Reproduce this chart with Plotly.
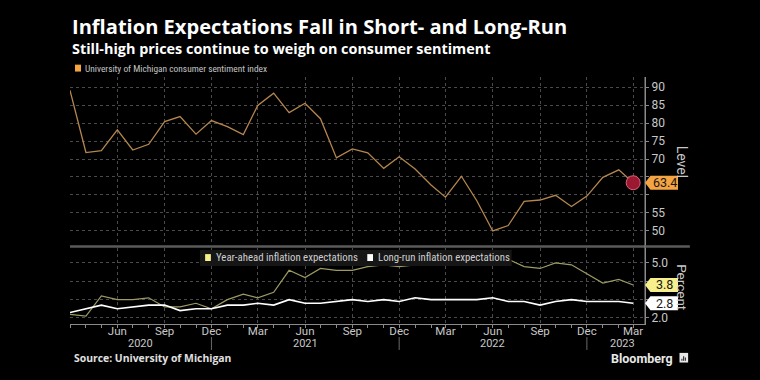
import plotly.graph_objects as go

# ---------------- data ----------------
months = ["2020-03-01", "2020-04-01", "2020-05-01", "2020-06-01", "2020-07-01", "2020-08-01",
          "2020-09-01", "2020-10-01", "2020-11-01", "2020-12-01", "2021-01-01", "2021-02-01",
          "2021-03-01", "2021-04-01", "2021-05-01", "2021-06-01", "2021-07-01", "2021-08-01",
          "2021-09-01", "2021-10-01", "2021-11-01", "2021-12-01", "2022-01-01", "2022-02-01",
          "2022-03-01", "2022-04-01", "2022-05-01", "2022-06-01", "2022-07-01", "2022-08-01",
          "2022-09-01", "2022-10-01", "2022-11-01", "2022-12-01", "2023-01-01", "2023-02-01",
          "2023-03-01"]

sentiment = [89.1, 71.8, 72.3, 78.1, 72.5, 74.1, 80.4, 81.8, 76.9, 80.7, 79.0, 76.8,
             84.9, 88.3, 82.9, 85.5, 81.2, 70.3, 72.8, 71.7, 67.4, 70.6, 67.2, 62.8,
             59.4, 65.2, 58.4, 50.0, 51.5, 58.2, 58.6, 59.9, 56.8, 59.7, 64.9, 67.0, 63.4]

year_ahead = [2.2, 2.1, 3.2, 3.0, 3.0, 3.1, 2.6, 2.6, 2.8, 2.5, 3.0, 3.3,
              3.1, 3.4, 4.6, 4.2, 4.7, 4.6, 4.6, 4.8, 4.9, 4.8, 4.9, 4.9,
              5.4, 5.4, 5.3, 5.3, 5.2, 4.8, 4.7, 5.0, 4.9, 4.4, 3.9, 4.1, 3.8]

long_run = [2.3, 2.5, 2.7, 2.5, 2.6, 2.7, 2.7, 2.4, 2.5, 2.5, 2.7, 2.7,
            2.8, 2.7, 3.0, 2.8, 2.8, 2.9, 3.0, 2.9, 3.0, 2.9, 3.1, 3.0,
            3.0, 3.0, 3.0, 3.1, 2.9, 2.9, 2.7, 2.9, 3.0, 2.9, 2.9, 2.9, 2.8]

tick_months = ["2020-06-01", "2020-09-01", "2020-12-01", "2021-03-01", "2021-06-01",
               "2021-09-01", "2021-12-01", "2022-03-01", "2022-06-01", "2022-09-01",
               "2022-12-01", "2023-03-01"]
tick_labels = ["Jun", "Sep", "Dec", "Mar", "Jun", "Sep", "Dec", "Mar", "Jun", "Sep", "Dec", "Mar"]

year_breaks = ["2020-12-01", "2021-12-01", "2022-12-01"]
year_labels = ["2020", "2021", "2022", "2023"]
year_label_pos = ["2020-07-16", "2021-06-01", "2022-06-01", "2023-02-08"]

level_ticks = [50, 55, 60, 65, 70, 75, 80, 85, 90]
pct_ticks = [2, 3, 4, 5]

x_range = ["2020-03-01", "2023-03-24"]
level_range = [46.1, 92.8]
pct_range = [1.67, 5.82]

# ---------------- style ----------------
BG = "#000000"
ORANGE_LINE = "#b5864f"
ORANGE = "#f5a443"
YA_LINE = "#9d9a62"
YELLOW = "#f6ef8c"
GRID = "#4a4a4a"
AX = "#8a8a8a"
TXT = "#c8c8c8"
FONT = "Roboto, sans-serif"
HEAD_FONT = "Open Sans, Roboto, sans-serif"
COND_FONT = "Roboto Condensed, Roboto, sans-serif"

LEVEL_HALF = 1.95   # badge half-height in level units
PCT_HALF = 0.38     # badge half-height in percent units


def tick_text(vals, hidden, half, fmt):
    out = []
    for v in vals:
        covered = any(abs(v - h) < half for h in hidden)
        out.append("" if covered else fmt.format(v))
    return out


fig = go.Figure()

fig.add_trace(go.Scatter(x=months, y=sentiment, mode="lines", xaxis="x", yaxis="y",
                         line=dict(color=ORANGE_LINE, width=1.3), showlegend=False,
                         hoverinfo="skip"))
fig.add_trace(go.Scatter(x=[months[-1]], y=[sentiment[-1]], mode="markers", xaxis="x", yaxis="y",
                         marker=dict(size=14, color="#9a1830", line=dict(color="#e0607a", width=1)),
                         showlegend=False, hoverinfo="skip"))
fig.add_trace(go.Scatter(x=months, y=year_ahead, mode="lines", xaxis="x2", yaxis="y2",
                         line=dict(color=YA_LINE, width=1.2), showlegend=False, hoverinfo="skip"))
fig.add_trace(go.Scatter(x=months, y=long_run, mode="lines", xaxis="x2", yaxis="y2",
                         line=dict(color="#ffffff", width=1.6), showlegend=False, hoverinfo="skip"))

TOP_DOMAIN = [0.32, 1.0]
BOT_DOMAIN = [0.0, 0.308]

common_x = dict(type="date", range=x_range, showgrid=True, gridcolor=GRID, griddash="dot",
                gridwidth=1, zeroline=False, tickvals=tick_months)

fig.update_layout(
    width=760, height=380,
    margin=dict(l=70, r=115, t=77, b=56),
    paper_bgcolor=BG, plot_bgcolor=BG,
    font=dict(family=FONT, color=TXT, size=11),
    showlegend=False,
    xaxis=dict(**common_x, anchor="y", showticklabels=False, ticks="", showline=False),
    xaxis2=dict(**common_x, anchor="y2", matches="x", ticktext=tick_labels,
                tickfont=dict(size=11.5, color=TXT), ticks="", ticklabelstandoff=-4,
                showline=True, linecolor=AX, linewidth=1,
                minor=dict(ticks="outside", ticklen=3, dtick="M1", tickcolor=AX, showgrid=False)),
    yaxis=dict(domain=TOP_DOMAIN, anchor="x", side="right", range=level_range,
               tickvals=level_ticks,
               ticktext=tick_text(level_ticks, [sentiment[-1]], LEVEL_HALF + 1.5, "{:d}"),
               showgrid=True, gridcolor=GRID, griddash="dot",
               zeroline=False, showline=True, linecolor=AX, ticks="outside", ticklen=3,
               tickcolor=AX, tickfont=dict(size=12, color=TXT)),
    yaxis2=dict(domain=BOT_DOMAIN, anchor="x2", side="right", range=pct_range,
                tickvals=pct_ticks,
                ticktext=tick_text(pct_ticks, [year_ahead[-1], long_run[-1]], PCT_HALF + 0.3, "{:.1f}"),
                showgrid=True, gridcolor=GRID,
                griddash="dot", zeroline=False, showline=True, linecolor=AX, ticks="outside",
                ticklen=3, tickcolor=AX, tickfont=dict(size=12, color=TXT)),
)

shapes = []
annotations = []

# panel separator bar
shapes.append(dict(type="line", xref="paper", yref="paper", x0=0, x1=1.078, y0=0.3138, y1=0.3138,
                   line=dict(color="#5a5a5a", width=2.5)))
# right axis continuous line
shapes.append(dict(type="line", xref="paper", yref="paper", x0=1, x1=1, y0=0, y1=1,
                   line=dict(color=AX, width=1)))

# year separators and labels
for d in year_breaks:
    shapes.append(dict(type="line", xref="x2", yref="paper", x0=d, x1=d, y0=-0.053, y1=-0.105,
                       line=dict(color="#6a6a6a", width=1)))
for lbl, pos in zip(year_labels, year_label_pos):
    annotations.append(dict(text=lbl, x=pos, xref="x2", y=-0.079, yref="paper", showarrow=False,
                            xanchor="center", yanchor="middle", font=dict(size=11, color=TXT)))


# value badges
def badge(val, yref, half_h, fill, label):
    x_tip, x_body, x_right = 1.0, 1.0095, 1.0574
    path = (f"M {x_tip},{val} L {x_body},{val + half_h} L {x_right},{val + half_h} "
            f"L {x_right},{val - half_h} L {x_body},{val - half_h} Z")
    shapes.append(dict(type="path", xref="paper", yref=yref, path=path, fillcolor=fill,
                       line=dict(width=0), layer="above"))
    annotations.append(dict(text=label, x=(x_body + x_right) / 2 + 0.001, xref="paper", y=val,
                            yref=yref, showarrow=False, xanchor="center", yanchor="middle",
                            font=dict(size=12.5, color="#151515")))


badge(sentiment[-1], "y", LEVEL_HALF, ORANGE, f"{sentiment[-1]:.1f}")
badge(year_ahead[-1], "y2", PCT_HALF, YELLOW, f"{year_ahead[-1]:.1f}")
badge(long_run[-1], "y2", PCT_HALF, "#ffffff", f"{long_run[-1]:.1f}")

# axis titles
annotations.append(dict(text="Level", x=1.064, xref="paper", y=0.658, yref="paper", textangle=90,
                        xanchor="center", yanchor="middle",
                        showarrow=False, font=dict(size=14, color=TXT)))
annotations.append(dict(text="Percent", x=1.064, xref="paper", y=0.15, yref="paper", textangle=90,
                        xanchor="center", yanchor="middle",
                        showarrow=False, font=dict(size=13.5, color=TXT)))

# title / subtitle
annotations.append(dict(text="<b>Inflation Expectations Fall in Short- and Long-Run</b>",
                        x=0, xref="paper", y=1.205, yref="paper", xanchor="left",
                        yanchor="middle", showarrow=False,
                        font=dict(size=20.1, color="#ffffff", family=HEAD_FONT)))
annotations.append(dict(text="<b>Still-high prices continue to weigh on consumer sentiment</b>",
                        x=0, xref="paper", y=1.117, yref="paper", xanchor="left",
                        yanchor="middle", showarrow=False,
                        font=dict(size=14.4, color="#ffffff", family=HEAD_FONT)))

# top legend
shapes.append(dict(type="rect", xref="paper", yref="paper", x0=0.0087, x1=0.0191,
                   y0=1.022, y1=1.050, fillcolor=ORANGE, line=dict(width=0)))
annotations.append(dict(text="University of Michigan consumer sentiment index", x=0.0226,
                        xref="paper", y=1.036, yref="paper", xanchor="left", yanchor="middle",
                        showarrow=False,
                        font=dict(size=9.4, color="#c4c4c4", family=COND_FONT)))

# bottom legend
shapes.append(dict(type="rect", xref="paper", yref="paper", x0=0.226, x1=0.768,
                   y0=0.235, y1=0.300, fillcolor="#161616", line=dict(width=0), layer="above"))
shapes.append(dict(type="rect", xref="paper", yref="paper", x0=0.235, x1=0.245,
                   y0=0.255, y1=0.283, fillcolor=YELLOW, line=dict(width=0), layer="above"))
annotations.append(dict(text="Year-ahead inflation expectations", x=0.250, xref="paper",
                        y=0.269, yref="paper", xanchor="left", yanchor="middle", showarrow=False,
                        font=dict(size=10.8, color="#cfcfcf", family=COND_FONT)))
shapes.append(dict(type="rect", xref="paper", yref="paper", x0=0.517, x1=0.527,
                   y0=0.255, y1=0.283, fillcolor="#ffffff", line=dict(width=0), layer="above"))
annotations.append(dict(text="Long-run inflation expectations", x=0.532, xref="paper",
                        y=0.269, yref="paper", xanchor="left", yanchor="middle", showarrow=False,
                        font=dict(size=10.8, color="#cfcfcf", family=COND_FONT)))

# source and branding
annotations.append(dict(text="<b>Source: University of Michigan</b>", x=0.0035, xref="paper",
                        y=-0.138, yref="paper", xanchor="left", yanchor="middle",
                        showarrow=False, font=dict(size=10.4, color="#e0e0e0", family=HEAD_FONT)))
annotations.append(dict(text="<b>Bloomberg</b>", x=1.052, xref="paper", y=-0.138, yref="paper",
                        xanchor="right", yanchor="middle", showarrow=False,
                        font=dict(size=12.5, color="#e8e8e8")))
# small logo mark
shapes.append(dict(type="rect", xref="paper", yref="paper", x0=1.060, x1=1.075,
                   y0=-0.156, y1=-0.117, fillcolor="#e8e8e8", line=dict(width=0)))
for bx0, by1 in [(1.0633, -0.141), (1.0663, -0.131), (1.0693, -0.136)]:
    shapes.append(dict(type="rect", xref="paper", yref="paper", x0=bx0, x1=bx0 + 0.0018,
                       y0=-0.149, y1=by1, fillcolor="#222222", line=dict(width=0)))

fig.update_layout(shapes=shapes, annotations=annotations)

fig.write_html("out.html", config={"displayModeBar": False},
               post_script="document.body.style.margin='0';")
